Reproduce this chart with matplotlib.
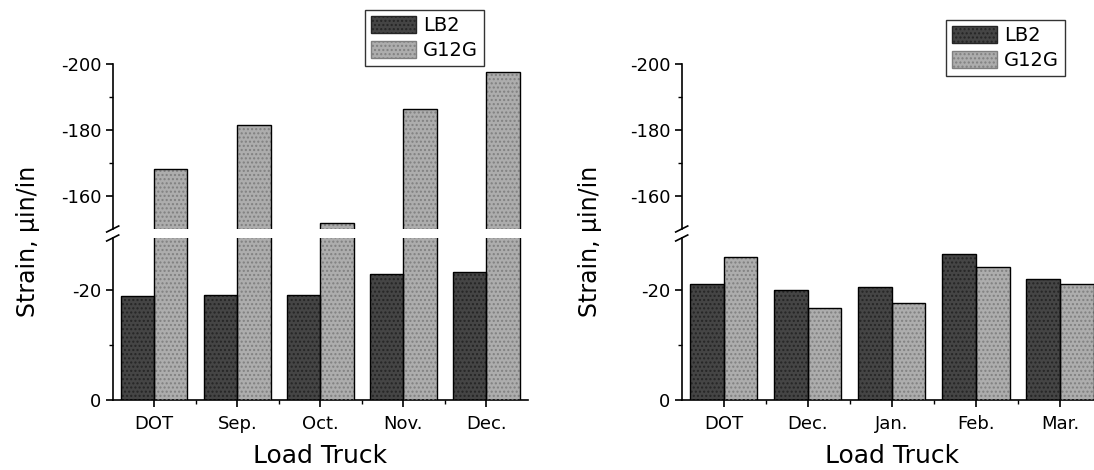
import matplotlib
matplotlib.use("Agg")
import matplotlib.pyplot as plt
from matplotlib.patches import Patch
from matplotlib.lines import Line2D
import numpy as np

plt.rcParams['font.family'] = ['DejaVu Sans']
plt.rcParams['axes.unicode_minus'] = False

# ---- data ----
series = ["LB2", "G12G"]
left_categories = ["DOT", "Sep.", "Oct.", "Nov.", "Dec."]
left_lb2 = [-19.0, -19.2, -19.1, -23.0, -23.3]
left_g12g = [-168.2, -181.6, -151.8, -186.4, -197.7]

right_categories = ["DOT", "Dec.", "Jan.", "Feb.", "Mar."]
right_lb2 = [-21.2, -20.1, -20.5, -26.5, -22.1]
right_g12g = [-26.1, -16.8, -17.7, -24.2, -21.2]

upper_ticks = [-200, -180, -160]
upper_minor = [-190, -170]
lower_ticks = [-20, 0]
lower_minor = [-10]

W, H = 1094, 470
fig = plt.figure(figsize=(W / 100, H / 100), dpi=100)

LB2_COLOR = "#454545"
G12G_COLOR = "#adadad"

def fx(px):
    return px / W

def fy(py):
    return 1 - py / H

def draw_panel(x0, x1, cats, lb2, g12g, legend_box, ylabel_x):
    lower_top, lower_bot = 238, 400
    upper_top, upper_bot = 64, 229
    ax_lo = fig.add_axes([fx(x0), fy(lower_bot), fx(x1 - x0), (lower_bot - lower_top) / H])
    ax_hi = fig.add_axes([fx(x0), fy(upper_bot), fx(x1 - x0), (upper_bot - upper_top) / H])
    x = np.arange(len(cats))
    w = 0.4
    for ax in (ax_lo, ax_hi):
        for vals, col, off, hc in ((lb2, LB2_COLOR, -w / 2, "#252525"),
                                   (g12g, G12G_COLOR, w / 2, "#808080")):
            ax.bar(x + off, vals, width=w, color=col, edgecolor="none", zorder=2)
            ax.bar(x + off, vals, width=w, color="none", edgecolor=hc,
                   hatch="....", linewidth=0, zorder=3)
            ax.bar(x + off, vals, width=w, color="none", edgecolor="black",
                   linewidth=1.0, zorder=4)
        ax.set_xlim(-0.5, 4.5)
        ax.spines["top"].set_visible(False)
        ax.spines["right"].set_visible(False)
        ax.spines["left"].set_linewidth(1.2)
        ax.tick_params(axis="y", direction="out", length=5, width=1.2,
                       labelsize=13, pad=3)
        ax.tick_params(axis="y", which="minor", direction="out", length=3, width=1)
    ax_lo.set_ylim(0, -29.5)
    ax_hi.set_ylim(-150, -200)
    ax_hi.spines["bottom"].set_visible(False)
    ax_hi.set_xticks([])
    ax_hi.set_yticks(upper_ticks)
    ax_hi.set_yticks(upper_minor, minor=True)
    ax_lo.set_yticks(lower_ticks)
    ax_lo.set_yticks(lower_minor, minor=True)
    ax_lo.spines["bottom"].set_linewidth(1.2)
    ax_lo.set_xticks(x)
    ax_lo.set_xticklabels(cats)
    ax_lo.set_xticks(x[:-1] + 0.5, minor=True)
    ax_lo.tick_params(axis="x", direction="out", length=5, width=1.2,
                      labelsize=13, pad=6)
    ax_lo.tick_params(axis="x", which="minor", direction="out", length=3, width=1)
    ax_lo.set_xlabel("Load Truck", fontsize=18, labelpad=8)
    fig.text(fx(ylabel_x), fy(241), "Strain, \u00b5in/in", rotation=90,
             fontsize=17, ha="center", va="center")
    # break marks
    for yb in (229, 238):
        fig.add_artist(Line2D([fx(x0 - 6), fx(x0 + 6)], [fy(yb + 3), fy(yb - 3)],
                              color="black", lw=1.2))
    # legend
    lx0, ly0, lx1, ly1 = legend_box
    handles = [Patch(facecolor=LB2_COLOR, edgecolor="#252525", hatch="...."),
               Patch(facecolor=G12G_COLOR, edgecolor="#808080", hatch="....")]
    leg = fig.legend(handles, series, loc="upper left",
                     bbox_to_anchor=(fx(lx0), fy(ly0)), fontsize=14,
                     frameon=True, fancybox=False, borderpad=0.3,
                     handlelength=2.3, handleheight=1.0, handletextpad=0.4,
                     labelspacing=0.3, borderaxespad=0)
    leg.get_frame().set_edgecolor("black")
    leg.get_frame().set_linewidth(1.0)
    return ax_lo, ax_hi

draw_panel(112.7, 528, left_categories, left_lb2, left_g12g, (365, 10, 490, 67), 28)
draw_panel(681.7, 1102, right_categories, right_lb2, right_g12g, (946, 20, 1062, 76), 590)

fig.savefig("out.png", dpi=100)
